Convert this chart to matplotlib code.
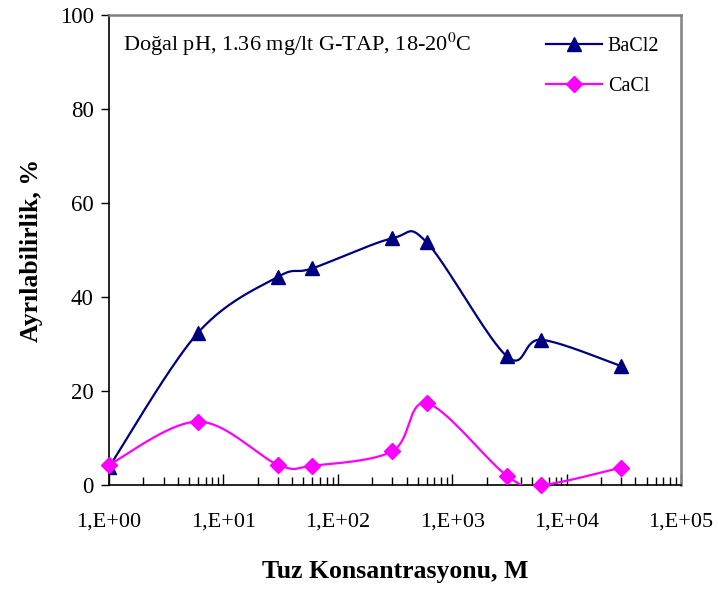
import numpy as np
import matplotlib
matplotlib.use("Agg")
import matplotlib.pyplot as plt
from matplotlib.lines import Line2D
from matplotlib.ticker import FixedLocator, FixedFormatter, LogLocator, NullFormatter

plt.rcParams['font.family'] = ['Liberation Serif', 'DejaVu Serif']
plt.rcParams['mathtext.fontset'] = 'stix'

# Salt concentration (M) and separability (%)
concentration = [1, 6, 30, 60, 300, 600, 3000, 6000, 30000]
bacl2 = [3.8, 32.4, 44.3, 46.1, 52.5, 51.6, 27.4, 30.9, 25.3]
cacl = [4.3, 13.5, 4.3, 4.1, 7.2, 17.4, 2.0, 0.0, 3.7]

x_ticks = [1, 10, 100, 1000, 10000, 100000]
x_tick_labels = ["1,E+00", "1,E+01", "1,E+02", "1,E+03", "1,E+04", "1,E+05"]
y_ticks = [0, 20, 40, 60, 80, 100]

NAVY = "#000080"
MAGENTA = "#FF00FF"


def smooth(xv, yv, n=40):
    """Bezier smoothing through the points, computed in log-x space."""
    lx = np.log10(np.asarray(xv, float))
    y = np.asarray(yv, float)
    pts = np.column_stack([lx, y])
    out = []
    m = len(pts)
    for i in range(m - 1):
        p0 = pts[i - 1] if i > 0 else pts[i]
        p1 = pts[i]
        p2 = pts[i + 1]
        p3 = pts[i + 2] if i + 2 < m else pts[i + 1]
        c1 = p1 + (p2 - p0) / 6.0
        c2 = p2 - (p3 - p1) / 6.0
        t = np.linspace(0, 1, n)[:, None]
        seg = ((1 - t) ** 3) * p1 + 3 * ((1 - t) ** 2) * t * c1 \
            + 3 * (1 - t) * t ** 2 * c2 + t ** 3 * p2
        out.append(seg if i == 0 else seg[1:])
    curve = np.vstack(out)
    return 10 ** curve[:, 0], curve[:, 1]


fig = plt.figure(figsize=(7.18, 5.89), dpi=100)
ax = fig.add_axes([109 / 718, 1 - 485 / 589, (681 - 109) / 718, (485 - 15) / 589])

sx, sy = smooth(concentration, bacl2)
ax.plot(sx, sy, color=NAVY, lw=1.6, zorder=3)
ax.plot(concentration, bacl2, ls='none', marker='^', ms=10, color=NAVY, zorder=4)

sx, sy = smooth(concentration, cacl)
ax.plot(sx, sy, color=MAGENTA, lw=1.6, zorder=3)
ax.plot(concentration, cacl, ls='none', marker='D', ms=8.5, color=MAGENTA, zorder=4,
        clip_on=False)

ax.set_xscale('log')
ax.set_xlim(1, 1e5)
ax.set_ylim(0, 100)

ax.xaxis.set_major_locator(FixedLocator(x_ticks))
ax.xaxis.set_major_formatter(FixedFormatter(x_tick_labels))
ax.xaxis.set_minor_locator(LogLocator(base=10, subs=np.arange(2, 10)))
ax.xaxis.set_minor_formatter(NullFormatter())
ax.set_yticks(y_ticks)

ax.tick_params(axis='x', which='major', direction='in', length=8, width=1,
               labelsize=16, pad=20, colors='black')
ax.tick_params(axis='x', which='minor', direction='in', length=5.5, width=1)
ax.tick_params(axis='y', which='major', direction='out', length=6, width=1,
               labelsize=16.5, pad=5)

for side in ('left', 'bottom'):
    ax.spines[side].set_color('black')
    ax.spines[side].set_linewidth(1.2)
for side in ('top', 'right'):
    ax.spines[side].set_color('#808080')
    ax.spines[side].set_linewidth(1.8)

ax.set_xlabel("Tuz Konsantrasyonu, M", fontsize=18.5, fontweight='bold', labelpad=20)
ax.set_ylabel("Ayrılabilirlik, %", fontsize=18.5, fontweight='bold', labelpad=12)

ax.text(0.025, 0.937, r"Doğal pH, 1.36 mg/lt G-TAP, 18-20$^{0}$C",
        transform=ax.transAxes, fontsize=16, va='center', ha='left')

handles = [
    Line2D([], [], color=NAVY, lw=1.6, marker='^', ms=10),
    Line2D([], [], color=MAGENTA, lw=1.6, marker='D', ms=8.5),
]
ax.legend(handles, ["BaCl2", "CaCl"], loc='upper left',
          bbox_to_anchor=(0.74, 0.983), frameon=False, fontsize=14.5,
          handlelength=2.75, handletextpad=0.3, labelspacing=1.05,
          borderpad=0.2)

fig.savefig("out.png", dpi=100)
